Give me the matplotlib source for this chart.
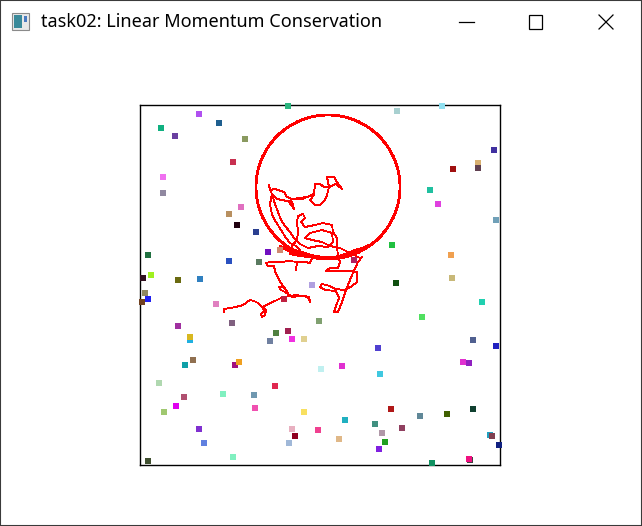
import matplotlib
matplotlib.use("Agg")
import matplotlib.pyplot as plt
from matplotlib.patches import Rectangle, Circle
from matplotlib.lines import Line2D
import numpy as np

# window
win_title = "task02: Linear Momentum Conservation"
box_size = 360

# particles (box units, origin bottom-left)
px = [148, 59, 79, 21, 35, 105, 93, 23, 23, 101, 89, 97, 116, 128, 140, 8, 89, 119, 11, 3,
      38, 60, 257, 302, 354, 338, 338, 313, 290, 298, 356, 252, 311, 214, 312, 5, 8, 2, 76, 172,
      144, 38, 92, 136, 148, 130, 152, 164, 179, 50, 50, 53, 45, 95, 99, 19, 135, 44, 83, 114,
      36, 115, 24, 164, 59, 152, 178, 155, 64, 149, 93, 8, 181, 256, 342, 282, 333, 356, 238, 323,
      329, 202, 240, 251, 333, 307, 280, 205, 235, 262, 242, 245, 199, 239, 350, 352, 359, 330, 329, 292]
py = [359, 351, 342, 337, 329, 326, 303, 288, 272, 258, 251, 240, 233, 213, 215, 210, 204, 203, 190, 187,
      185, 186, 354, 359, 315, 302, 297, 296, 275, 261, 245, 220, 210, 205, 187, 172, 166, 163, 161, 180,
      166, 139, 142, 132, 134, 124, 126, 126, 144, 125, 128, 105, 100, 100, 103, 82, 79, 68, 71, 70,
      59, 57, 53, 53, 36, 36, 35, 29, 22, 22, 8, 4, 96, 182, 163, 148, 125, 119, 117, 103,
      102, 99, 91, 56, 56, 51, 49, 45, 41, 37, 32, 23, 26, 16, 30, 29, 20, 5, 6, 2]
pcolors = ["#2bb57f", "#b050f0", "#1f5f8f", "#10b080", "#6a3fa0", "#8a9a60", "#c83050", "#f070f0", "#9088a0", "#e070c0",
           "#b89060", "#200010", "#2a3f90", "#7010c0", "#d08870", "#207040", "#2a50c0", "#5a7a60", "#a0f020", "#301020",
           "#6a6a10", "#3080c0", "#a8d0d0", "#90e0f0", "#4030a0", "#d8b070", "#604050", "#a01010", "#20c0a0", "#e040e0",
           "#70a0b8", "#20c040", "#f0a050", "#b02060", "#c8b878", "#908860", "#2020f0", "#704020", "#e080c0", "#b0a0e0",
           "#c02040", "#a030a0", "#806080", "#508040", "#a02050", "#7080a0", "#f030e0", "#e0d090", "#80a070", "#20b0e0",
           "#d8b820", "#907050", "#10a0a8", "#a01080", "#f0a020", "#b0d8b0", "#e02850", "#b05070", "#80f0c0", "#7098b0",
           "#e000f0", "#f050b0", "#a0c870", "#f8e060", "#8030d0", "#e8b0c0", "#f04090", "#900020", "#6080e0", "#a0b8d8",
           "#80f0c0", "#405030", "#c0f0f0", "#105010", "#20d0b0", "#50e060", "#506090", "#2020c0", "#5040d0", "#e030d0",
           "#9020c0", "#e030d0", "#40c8e0", "#b01818", "#104030", "#406000", "#608898", "#20b0c0", "#409080", "#904060",
           "#b098a8", "#20a020", "#e0b888", "#8020e0", "#20a0c0", "#804050", "#102080", "#404040", "#f01080", "#109060"]

# big body
body_center = (188, 278)
body_radius = 72

# path of big body
traj = [(84, 153), (84, 156), (90, 157), (96, 158), (103, 160), (110, 165), (114, 164), (118, 162), (122, 158),
        (124, 154), (121, 151), (122, 148), (125, 150), (126, 155), (123, 158), (128, 161), (135, 164), (143, 168),
        (150, 169), (156, 170), (162, 169), (166, 169), (169, 166), (170, 163), (169, 168), (160, 169), (152, 168),
        (148, 171), (145, 173), (141, 175), (139, 178), (143, 178), (147, 174), (148, 172), (141, 182), (137, 189),
        (135, 194), (134, 199), (128, 199), (126, 202), (130, 203), (140, 203), (150, 204), (157, 203), (156, 195),
        (157, 203), (165, 203), (170, 202), (172, 207), (168, 210), (160, 211), (150, 213), (143, 217), (140, 219),
        (146, 217), (155, 215), (165, 212), (175, 209), (185, 208), (195, 208), (205, 211), (215, 215), (222, 217),
        (228, 220), (226, 218), (215, 213), (205, 209), (190, 206), (175, 207), (160, 209), (150, 211), (152, 219),
        (157, 225), (158, 233), (157, 243), (158, 249), (163, 251), (165, 247), (161, 243), (165, 238), (170, 239),
        (175, 240), (183, 242), (192, 240), (193, 233), (197, 227), (197, 218), (198, 209), (200, 203), (198, 197),
        (190, 197), (186, 194), (198, 194), (210, 194), (217, 193), (217, 183), (212, 179), (205, 175), (195, 176),
        (190, 179), (182, 181), (180, 178), (185, 175), (196, 174), (199, 167), (196, 159), (194, 153), (198, 153),
        (202, 163), (206, 175), (212, 190), (218, 203), (222, 208), (220, 207), (200, 217), (190, 219), (182, 223),
        (172, 225), (165, 227), (170, 232), (182, 235), (192, 232), (193, 223), (188, 218), (178, 219), (168, 217),
        (160, 221), (154, 227), (150, 233), (145, 239), (141, 245), (138, 253), (135, 261), (132, 271), (130, 275),
        (129, 280), (130, 275), (135, 276), (144, 273), (147, 268), (152, 266), (162, 266), (167, 268), (174, 271),
        (175, 281), (180, 281), (184, 278), (189, 278), (187, 288), (194, 288), (197, 283), (202, 276), (196, 281),
        (189, 278), (187, 270), (185, 265), (180, 260), (175, 260), (170, 265), (174, 270), (167, 268), (152, 266),
        (149, 263), (154, 256), (152, 263), (142, 265), (137, 266), (132, 271), (130, 261), (132, 250), (136, 243),
        (141, 235), (146, 227), (150, 222), (156, 219), (160, 215)]

W, H = 642, 526
fig = plt.figure(figsize=(W / 100, H / 100), dpi=100)
fig.patch.set_facecolor("white")

def fx(x):
    return x / W

def fy(y):
    return 1 - y / H

# window frame and title bar
fig.add_artist(Rectangle((0, 0), 1, 1, transform=fig.transFigure, fill=False,
                         edgecolor="#3a3a3a", lw=1.5))
fig.add_artist(Rectangle((fx(12), fy(30)), 17 / W, 17 / H, transform=fig.transFigure,
                         facecolor="#e8e8e8", edgecolor="#8a8a8a", lw=0.8))
fig.add_artist(Rectangle((fx(14), fy(28)), 8 / W, 13 / H, transform=fig.transFigure,
                         facecolor="#3a8a9a", edgecolor="none"))
fig.add_artist(Rectangle((fx(24), fy(22)), 3 / W, 6 / H, transform=fig.transFigure,
                         facecolor="#4a7ac0", edgecolor="none"))
fig.text(fx(41), fy(22), win_title, fontsize=13.0, family="Noto Sans",
         va="center", ha="left", color="black")
fig.add_artist(Line2D([fx(459), fx(474)], [fy(22), fy(22)], transform=fig.transFigure,
                      color="black", lw=0.9))
fig.add_artist(Rectangle((fx(529), fy(29)), 13 / W, 14 / H, transform=fig.transFigure,
                         fill=False, edgecolor="black", lw=0.9))
fig.add_artist(Line2D([fx(599), fx(613)], [fy(15), fy(29)], transform=fig.transFigure,
                      color="black", lw=0.9))
fig.add_artist(Line2D([fx(599), fx(613)], [fy(29), fy(15)], transform=fig.transFigure,
                      color="black", lw=0.9))

# simulation box
ax = fig.add_axes([fx(140), fy(465), box_size / W, box_size / H])
ax.set_xlim(0, box_size)
ax.set_ylim(0, box_size)
ax.set_xticks([])
ax.set_yticks([])
for s in ax.spines.values():
    s.set_linewidth(1.0)
    s.set_color("black")

tx, ty = np.array(traj).T
ax.plot(tx, ty, color="red", lw=0.6, zorder=2, antialiased=False)
ax.add_patch(Circle(body_center, body_radius, fill=False, edgecolor="red", lw=1.3,
                    zorder=3, antialiased=False))

ax.scatter(px, py, s=20, marker="s", c=pcolors, linewidths=0, clip_on=False, zorder=4)

fig.savefig("out.png", dpi=100)
